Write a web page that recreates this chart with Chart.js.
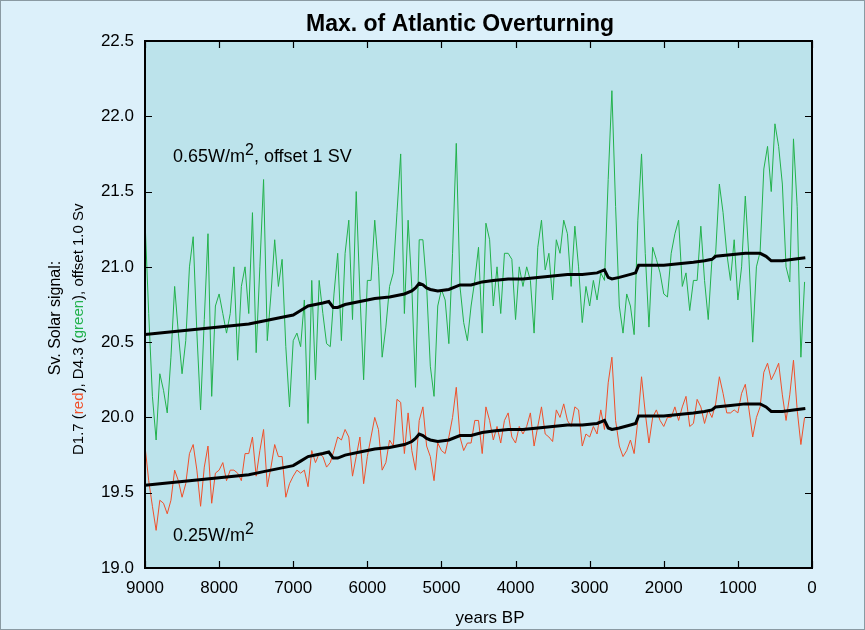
<!DOCTYPE html>
<html>
<head>
<meta charset="utf-8">
<script src="https://cdn.jsdelivr.net/npm/chart.js@4"></script>
<style>
  html, body { margin: 0; padding: 0; background: #dcf0fa; }
  #wrap { width: 865px; height: 630px; }
</style>
</head>
<body>
<div id="wrap"><canvas id="overturning" width="865" height="630"></canvas></div>
<script>
// years BP for the two noisy runs
const years = [
  9000,8950,8900,8850,8800,8750,8700,8650,8600,8550,8500,8450,8400,8350,8300,8250,8200,8150,8100,8050,
  8000,7950,7900,7850,7800,7750,7700,7650,7600,7550,7500,7450,7400,7350,7300,7250,7200,7150,7100,7050,
  7000,6950,6900,6850,6800,6750,6700,6650,6600,6550,6500,6450,6400,6350,6300,6250,6200,6150,6100,6050,
  6000,5950,5900,5850,5800,5750,5700,5650,5600,5550,5500,5450,5400,5350,5300,5250,5200,5150,5100,5050,
  5000,4950,4900,4850,4800,4750,4700,4650,4600,4550,4500,4450,4400,4350,4300,4250,4200,4150,4100,4050,
  4000,3950,3900,3850,3800,3750,3700,3650,3600,3550,3500,3450,3400,3350,3300,3250,3200,3150,3100,3050,
  3000,2950,2900,2850,2800,2750,2700,2650,2600,2550,2500,2450,2400,2350,2300,2250,2200,2150,2100,2050,
  2000,1950,1900,1850,1800,1750,1700,1650,1600,1550,1500,1450,1400,1350,1300,1250,1200,1150,1100,1050,
  1000,950,900,850,800,750,700,650,600,550,500,450,400,350,300,250,200,150,100
];

// D4.3 (green), 0.65 W/m2, offset +1 Sv
const greenSv = [
  21.31,20.69,20.14,19.85,20.29,20.18,20.03,20.40,20.87,20.56,20.29,20.51,21.00,21.20,20.56,20.05,20.65,21.22,20.14,20.74,
  20.82,20.69,20.56,20.69,21.00,20.38,20.87,21.00,20.69,21.36,20.43,21.00,21.58,20.51,20.82,21.18,20.87,21.05,20.47,20.07,
  20.51,20.56,20.47,20.78,19.96,20.91,20.25,20.91,20.69,20.49,20.47,20.82,21.09,20.51,21.09,21.31,20.65,21.50,20.82,20.25,
  20.91,20.91,21.31,21.00,20.40,20.60,20.87,20.96,21.36,21.75,20.69,21.31,20.87,20.20,21.18,21.18,20.87,20.34,20.14,20.74,
  20.85,20.78,20.49,21.09,21.82,20.87,20.63,20.51,20.74,20.91,21.13,20.56,21.29,21.18,20.74,21.00,20.69,21.09,21.09,21.05,
  20.65,21.00,20.87,21.00,20.91,20.56,21.13,21.31,20.98,21.09,20.78,21.18,21.09,21.31,21.22,20.87,21.27,21.00,20.63,20.87,
  20.74,20.91,20.78,20.96,20.91,21.58,22.17,21.40,20.74,20.56,20.82,20.74,20.55,21.31,21.75,21.09,20.60,21.13,21.05,20.96,
  20.82,20.80,21.09,21.22,21.31,20.87,20.96,20.71,20.91,20.91,21.27,20.91,20.65,21.05,21.09,21.55,21.36,21.09,20.91,21.18,
  20.78,21.00,21.47,21.05,20.50,21.00,21.10,21.65,21.80,21.50,21.95,21.80,21.55,21.00,20.90,21.85,21.40,20.40,20.90
];

// D1.7 (red), 0.25 W/m2
const redSv = [
  19.81,19.58,19.41,19.25,19.45,19.43,19.36,19.45,19.65,19.58,19.47,19.56,19.76,19.82,19.65,19.41,19.67,19.81,19.43,19.63,
  19.65,19.70,19.58,19.65,19.65,19.63,19.58,19.76,19.76,19.87,19.61,19.78,19.92,19.54,19.67,19.82,19.74,19.74,19.47,19.56,
  19.61,19.65,19.63,19.65,19.54,19.78,19.70,19.76,19.74,19.67,19.70,19.78,19.87,19.85,19.92,19.87,19.61,19.74,19.87,19.56,
  19.74,19.87,20.00,19.92,19.65,19.70,19.85,19.81,20.12,20.10,19.76,20.03,19.78,19.65,19.98,20.07,19.81,19.74,19.58,19.83,
  19.78,19.76,19.87,20.00,20.20,19.87,19.78,19.83,19.83,19.98,19.98,19.76,20.07,19.98,19.85,19.94,19.83,19.98,20.03,19.87,
  19.83,19.94,19.89,19.94,20.03,19.81,19.94,20.07,19.89,19.87,19.84,20.05,20.00,20.09,19.98,19.94,20.07,20.05,19.81,19.89,
  19.87,19.94,19.89,20.05,19.92,20.23,20.40,19.98,19.81,19.74,19.78,19.85,19.76,19.98,20.27,20.03,19.83,20.00,20.05,19.98,
  19.94,20.00,20.00,20.07,19.98,20.07,20.14,19.94,19.96,20.12,20.07,19.96,20.05,20.00,20.09,20.27,20.16,20.03,20.03,20.05,
  20.03,20.16,20.22,20.05,19.87,20.00,20.07,20.30,20.36,20.25,20.30,20.36,20.15,19.98,20.15,20.38,20.05,19.82,20.00
];

// smooth (black) curves, read at their own years
const smoothYears = [
  9000,8800,8600,8400,8200,8000,7800,7600,7400,7200,7000,6900,6800,6700,6600,6520,6460,6400,6300,6100,
  5900,5700,5500,5400,5350,5300,5250,5200,5150,5050,4900,4750,4600,4450,4300,4100,3900,3700,3500,3300,
  3100,2900,2800,2750,2700,2600,2450,2380,2340,2200,2000,1800,1600,1450,1350,1300,1100,900,700,620,
  550,400,250,90
];
const greenSmooth = [
  20.55,20.56,20.57,20.58,20.59,20.60,20.61,20.62,20.64,20.66,20.68,20.71,20.74,20.75,20.76,20.77,20.73,20.73,20.75,20.77,
  20.79,20.80,20.82,20.84,20.86,20.89,20.88,20.86,20.85,20.84,20.85,20.88,20.88,20.90,20.91,20.92,20.92,20.93,20.94,20.95,
  20.95,20.96,20.98,20.93,20.92,20.93,20.95,20.96,21.01,21.01,21.01,21.02,21.03,21.04,21.05,21.07,21.08,21.09,21.09,21.07,
  21.04,21.04,21.05,21.06
];
const redSmooth = [
  19.55,19.56,19.57,19.58,19.59,19.60,19.61,19.62,19.64,19.66,19.68,19.71,19.74,19.75,19.76,19.77,19.73,19.73,19.75,19.77,
  19.79,19.80,19.82,19.84,19.86,19.89,19.88,19.86,19.85,19.84,19.85,19.88,19.88,19.90,19.91,19.92,19.92,19.93,19.94,19.95,
  19.95,19.96,19.98,19.93,19.92,19.93,19.95,19.96,20.01,20.01,20.01,20.02,20.03,20.04,20.05,20.07,20.08,20.09,20.09,20.07,
  20.04,20.04,20.05,20.06
];

const xTicks = [9000, 8000, 7000, 6000, 5000, 4000, 3000, 2000, 1000, 0];
const yTicks = [19.0, 19.5, 20.0, 20.5, 21.0, 21.5, 22.0, 22.5];

const FONT = '"Liberation Sans", Arial, Helvetica, sans-serif';
const GREEN = '#22b24c';
const RED = '#f0502a';

function pts(xs, ys) {
  return xs.map((x, i) => ({ x: x, y: ys[i] }));
}

// 背景、框線、向內刻度與文字
const decorPlugin = {
  id: 'decor',
  beforeDraw(chart) {
    const { ctx, chartArea: a, width, height } = chart;
    ctx.save();
    ctx.fillStyle = '#dcf0fa';
    ctx.fillRect(0, 0, width, height);
    ctx.fillStyle = '#bce3eb';
    ctx.fillRect(a.left, a.top, a.right - a.left, a.bottom - a.top);
    ctx.restore();
  },
  afterDraw(chart) {
    const { ctx, chartArea: a, width, height } = chart;
    const xs = chart.scales.x, ys = chart.scales.y;
    ctx.save();

    // outer thin border
    ctx.strokeStyle = '#8a9aa2';
    ctx.lineWidth = 1;
    ctx.strokeRect(0.5, 0.5, width - 1, height - 1);

    // plot frame
    ctx.strokeStyle = '#000';
    ctx.lineWidth = 2;
    ctx.strokeRect(a.left, a.top, a.right - a.left, a.bottom - a.top);

    // inward ticks
    ctx.lineWidth = 1.2;
    ctx.beginPath();
    xTicks.forEach(v => {
      const px = Math.round(xs.getPixelForValue(v)) + 0.5;
      ctx.moveTo(px, a.bottom); ctx.lineTo(px, a.bottom - 7);
      ctx.moveTo(px, a.top); ctx.lineTo(px, a.top + 7);
    });
    yTicks.forEach(v => {
      const py = Math.round(ys.getPixelForValue(v)) + 0.5;
      ctx.moveTo(a.left, py); ctx.lineTo(a.left + 7, py);
      ctx.moveTo(a.right, py); ctx.lineTo(a.right - 7, py);
    });
    ctx.stroke();

    // title
    ctx.fillStyle = '#000';
    ctx.textAlign = 'center';
    ctx.textBaseline = 'alphabetic';
    ctx.font = 'bold 23px ' + FONT;
    ctx.fillText('Max. of Atlantic Overturning', 460, 31);

    // x axis title
    ctx.font = '17px ' + FONT;
    ctx.fillText('years BP', 490, 623);

    // annotations with superscript
    function powerText(x, y, before, sup, after) {
      ctx.textAlign = 'left';
      ctx.font = '18px ' + FONT;
      ctx.fillText(before, x, y);
      let w = ctx.measureText(before).width;
      ctx.font = '16px ' + FONT;
      ctx.fillText(sup, x + w, y - 7);
      w += ctx.measureText(sup).width;
      ctx.font = '18px ' + FONT;
      if (after) ctx.fillText(after, x + w, y);
    }
    powerText(173, 162, '0.65W/m', '2', ', offset 1 SV');
    powerText(173, 541, '0.25W/m', '2', '');

    // rotated y axis title, two lines
    ctx.save();
    ctx.translate(60, 318);
    ctx.rotate(-Math.PI / 2);
    ctx.font = '16px ' + FONT;
    ctx.textAlign = 'center';
    ctx.fillStyle = '#000';
    ctx.fillText('Sv. Solar signal:', 0, 0);
    ctx.restore();

    ctx.save();
    ctx.translate(83, 455);
    ctx.rotate(-Math.PI / 2);
    ctx.font = '15px ' + FONT;
    ctx.textAlign = 'left';
    const parts = [
      ['D1.7 (', '#000'], ['red', RED], ['), D4.3 (', '#000'],
      ['green', GREEN], ['), offset 1.0 Sv', '#000']
    ];
    let off = 0;
    parts.forEach(([t, c]) => {
      ctx.fillStyle = c;
      ctx.fillText(t, off, 0);
      off += ctx.measureText(t).width;
    });
    ctx.restore();

    ctx.restore();
  }
};

const ctx = document.getElementById('overturning');

new Chart(ctx, {
  type: 'line',
  data: {
    datasets: [
      {
        label: 'D4.3 smooth',
        data: pts(smoothYears, greenSmooth),
        borderColor: '#000',
        borderWidth: 3,
        pointRadius: 0,
        order: 0
      },
      {
        label: 'D1.7 smooth',
        data: pts(smoothYears, redSmooth),
        borderColor: '#000',
        borderWidth: 3,
        pointRadius: 0,
        order: 0
      },
      {
        label: 'D4.3 (green)',
        data: pts(years, greenSv),
        borderColor: GREEN,
        borderWidth: 1,
        pointRadius: 0,
        order: 1
      },
      {
        label: 'D1.7 (red)',
        data: pts(years, redSv),
        borderColor: RED,
        borderWidth: 1,
        pointRadius: 0,
        order: 1
      }
    ]
  },
  options: {
    responsive: false,
    animation: false,
    layout: { padding: { top: 41, right: 53, bottom: 0, left: 0 } },
    plugins: {
      legend: { display: false },
      tooltip: { enabled: false },
      title: { display: false }
    },
    scales: {
      x: {
        type: 'linear',
        reverse: true,
        min: 0,
        max: 9000,
        afterFit(s) { s.height = 62; },
        afterBuildTicks(s) { s.ticks = xTicks.map(v => ({ value: v })); },
        ticks: {
          color: '#000',
          padding: 10,
          maxRotation: 0,
          font: { family: FONT, size: 17 },
          callback: v => String(v)
        },
        grid: { display: false, drawTicks: false },
        border: { display: false }
      },
      y: {
        min: 19,
        max: 22.5,
        afterFit(s) { s.width = 145; },
        afterBuildTicks(s) { s.ticks = yTicks.map(v => ({ value: v })); },
        ticks: {
          color: '#000',
          padding: 11,
          font: { family: FONT, size: 17 },
          callback: v => Number(v).toFixed(1)
        },
        grid: { display: false, drawTicks: false },
        border: { display: false }
      }
    }
  },
  plugins: [decorPlugin]
});
</script>
</body>
</html>
